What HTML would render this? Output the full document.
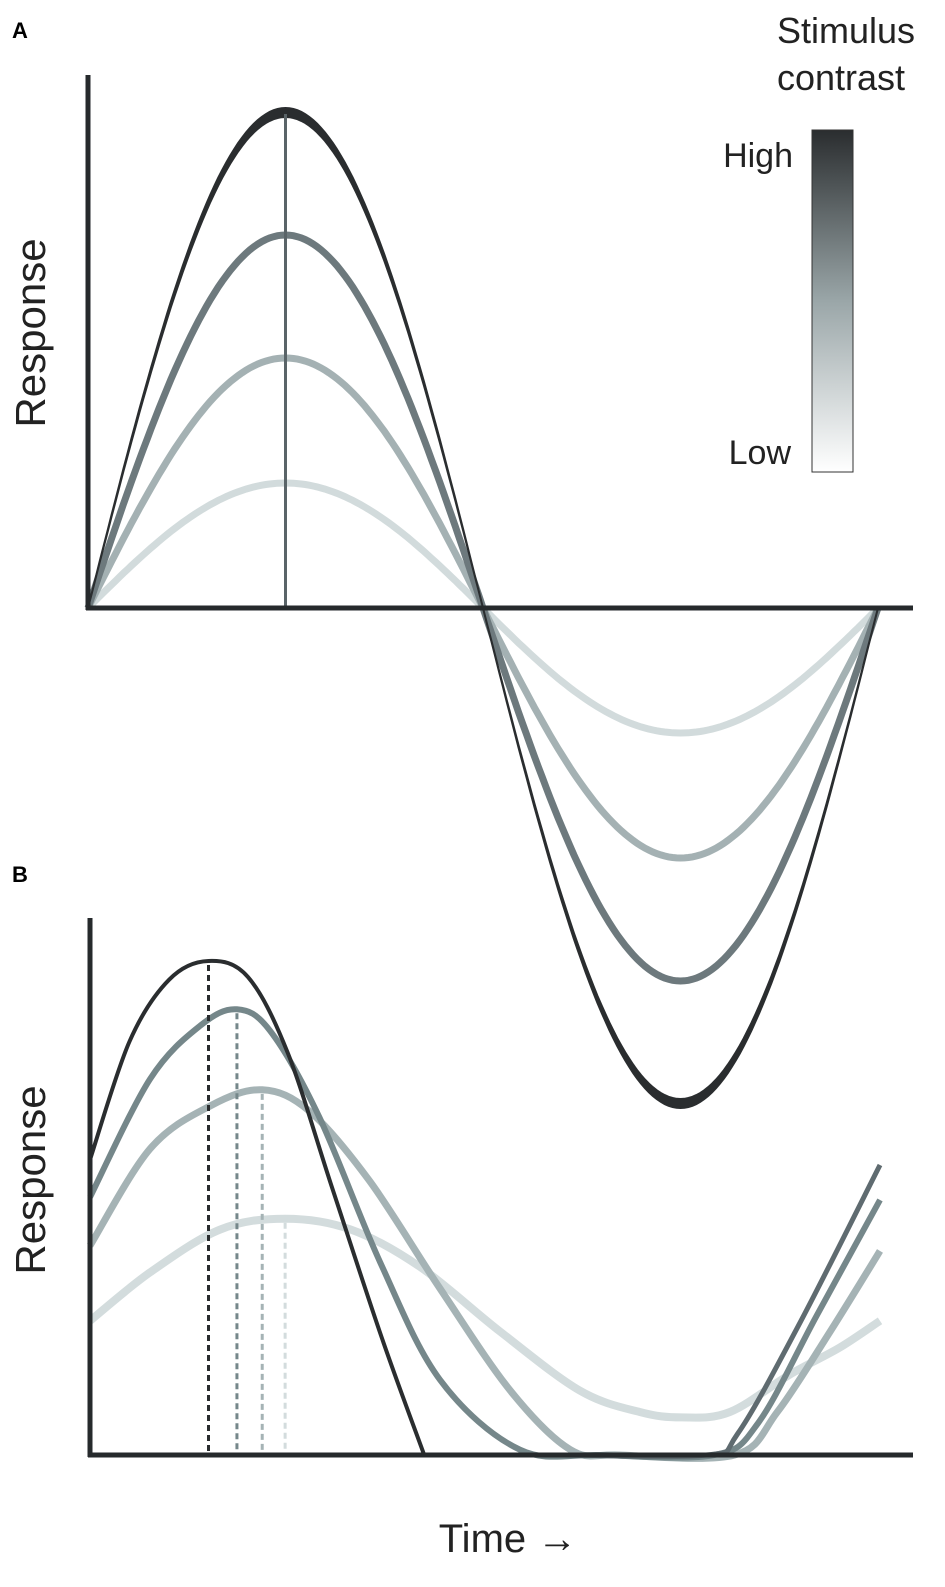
<!DOCTYPE html>
<html><head><meta charset="utf-8"><style>
body{margin:0;background:#fff;width:945px;height:1587px;overflow:hidden}
svg{display:block;font-family:"Liberation Sans",sans-serif}
</style></head><body>
<svg id="c" width="945" height="1587" viewBox="0 0 945 1587">
<defs><linearGradient id="g" x1="0" y1="0" x2="0" y2="1"><stop offset="0" stop-color="#2a2d2f"/><stop offset="0.5" stop-color="#9aa6a8"/><stop offset="1" stop-color="#ffffff"/></linearGradient></defs>
<text x="12" y="38" font-size="22" font-weight="bold">A</text>
<text x="12" y="882" font-size="22" font-weight="bold">B</text>
<text transform="translate(45,333) rotate(-90)" text-anchor="middle" font-size="42" fill="#222">Response</text>
<text transform="translate(45,1180) rotate(-90)" text-anchor="middle" font-size="42" fill="#222">Response</text>
<text x="508" y="1552" text-anchor="middle" font-size="40" fill="#222">Time →</text>
<text x="915" y="43" text-anchor="end" font-size="36" fill="#222">Stimulus</text>
<text x="905" y="90" text-anchor="end" font-size="36" fill="#222">contrast</text>
<rect x="812" y="130" width="41" height="342" fill="url(#g)" stroke="#333" stroke-width="1"/>
<text x="793" y="167" text-anchor="end" font-size="34" fill="#222">High</text>
<text x="791" y="464" text-anchor="end" font-size="34" fill="#222">Low</text>
<g id="ga"></g><g id="gb"></g>
</svg>
<script>
// Panel A data: peak amplitudes (px-equivalent response units)
const ampA = [500, 373, 250, 125];
const colorsA = ["#2a2d2f", "#6d797d", "#a4b1b3", "#d2dbdc"];
// Panel B data: series sampled (time, response)
const bTime1 = [0, 5, 10, 15, 20, 25, 30.6, 36.9, 42.3];
const bResp1 = [55, 77, 88.5, 92, 89, 75, 50, 22, 0];
const bTime1b = [60, 78, 82, 90, 100];
const bResp1b = [0, 0, 4, 25, 54];
const bTime2 = [0, 7.6, 14, 18.6, 22.8, 29, 36.7, 44.3, 54.4, 64.6, 79, 84.6, 92, 100];
const bResp2 = [48, 70, 80, 83, 79, 63, 36, 14, 1, 0, 0, 6, 26, 47.5];
const bTime3 = [0, 7.6, 15.2, 21.8, 27.8, 35.4, 44.3, 53.2, 60.8, 67, 81.6, 87, 93.7, 100];
const bResp3 = [39, 57, 65, 68, 64, 51, 31, 12, 1, 0, 0, 8, 23, 38];
const bTime4 = [0, 7.6, 16.5, 24.7, 33, 41.8, 51.9, 62, 69.6, 74.9, 81, 88.6, 94.9, 100];
const bResp4 = [25, 34, 42, 44, 42, 35, 23, 12, 8, 7, 8, 15, 20, 25];
const bPeakT = [15, 18.6, 21.8, 24.7];
const bPeakR = [92, 83, 68, 44];
const colorsB = ["#2a2d2f", "#75878a", "#a5b3b5", "#d3dcdd"];
const widthsB = [4, 6, 7, 8];

const NS = "http://www.w3.org/2000/svg";
function mk(t, a, p) { const e = document.createElementNS(NS, t); for (const k in a) e.setAttribute(k, a[k]); p.appendChild(e); return e; }
const ga = document.getElementById('ga'), gb = document.getElementById('gb');

const ax = t => 88 + t * (878 - 88);
const ay = v => 608 - v;
for (let i = ampA.length - 1; i >= 0; i--) {
  let d = "";
  for (let k = 0; k <= 200; k++) { const t = k / 200; d += (k ? "L" : "M") + ax(t).toFixed(1) + "," + ay(ampA[i] * Math.sin(2 * Math.PI * t)).toFixed(1); }
  if (i === 0) {
    let d2 = d;
    for (let k = 200; k >= 0; k--) { const t = k / 200; d2 += "L" + ax(t).toFixed(1) + "," + ay((ampA[i] - 9) * Math.sin(2 * Math.PI * t)).toFixed(1); }
    const e = mk("path", { d: d2 + "Z", fill: colorsA[i], stroke: colorsA[i], "stroke-width": 2 }, ga);
    
    
  } else {
    const e = mk("path", { d: d, fill: "none", stroke: colorsA[i], "stroke-width": 7 }, ga);
    
    
  }
}
const vl = mk("line", { x1: ax(0.25), x2: ax(0.25), y1: ay(ampA[0] - 6), y2: 608, stroke: "#5a6468", "stroke-width": 3 }, ga);


const aY = mk("line", { x1: 88, x2: 88, y1: 75, y2: 610, stroke: "#262a2c", "stroke-width": 5 }, ga);


const aX = mk("line", { x1: 86, x2: 913, y1: 608, y2: 608, stroke: "#262a2c", "stroke-width": 5 }, ga);



const bx = t => 90 + t * 7.9;
const by = r => 1455 - r * 5.37;
function smooth(pts) {
  let d = "M" + pts[0][0].toFixed(1) + "," + pts[0][1].toFixed(1);
  for (let i = 0; i < pts.length - 1; i++) {
    const p0 = pts[Math.max(0, i - 1)], p1 = pts[i], p2 = pts[i + 1], p3 = pts[Math.min(pts.length - 1, i + 2)];
    const c1 = [p1[0] + (p2[0] - p0[0]) / 6, p1[1] + (p2[1] - p0[1]) / 6], c2 = [p2[0] - (p3[0] - p1[0]) / 6, p2[1] - (p3[1] - p1[1]) / 6];
    d += "C" + c1.map(v => v.toFixed(1)) + " " + c2.map(v => v.toFixed(1)) + " " + p2.map(v => v.toFixed(1));
  }
  return d;
}
const times = [bTime1, bTime2, bTime3, bTime4], resps = [bResp1, bResp2, bResp3, bResp4];
for (let i = 3; i >= 0; i--) {
  const pts = times[i].map((t, k) => [bx(t), by(resps[i][k])]);
  const e = mk("path", { d: smooth(pts), fill: "none", stroke: colorsB[i], "stroke-width": widthsB[i] }, gb);
  
  
  if (i === 0) {
    const pb = bTime1b.map((t, k) => [bx(t), by(bResp1b[k])]);
    const e2 = mk("path", { d: smooth(pb), fill: "none", stroke: "#5f6b70", "stroke-width": 5 }, gb);
    
    
  }
}
for (let i = 0; i < 4; i++) {
  const e = mk("line", { x1: bx(bPeakT[i]), x2: bx(bPeakT[i]), y1: by(bPeakR[i]) + 4, y2: 1455, stroke: colorsB[i], "stroke-width": 3, "stroke-dasharray": "6,4" }, gb);
  
  
}
const bY = mk("line", { x1: 90, x2: 90, y1: 918, y2: 1457, stroke: "#262a2c", "stroke-width": 5 }, gb);


const bX = mk("line", { x1: 88, x2: 913, y1: 1455, y2: 1455, stroke: "#262a2c", "stroke-width": 5 }, gb);


</script>
</body></html>
